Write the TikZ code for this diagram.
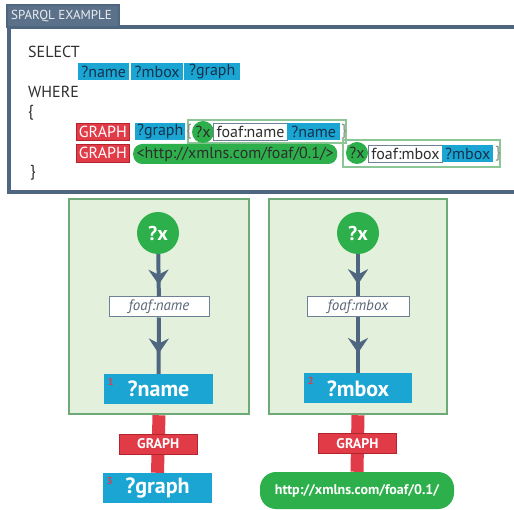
\documentclass[tikz,border=0pt]{standalone}
\usepackage{fontspec}
\setmainfont{PT Sans}
\usetikzlibrary{arrows.meta,decorations.markings}

\definecolor{slate}{HTML}{4E6680}
\definecolor{tabslate}{HTML}{5B7189}
\definecolor{codegray}{HTML}{2E2E2E}
\definecolor{bracegray}{HTML}{8A8A8A}
\definecolor{varblue}{HTML}{1AA5D2}
\definecolor{varnavy}{HTML}{14324E}
\definecolor{graphred}{HTML}{E23B48}
\definecolor{graphdark}{HTML}{B3242D}
\definecolor{xgreen}{HTML}{2DB04B}
\definecolor{triplegreen}{HTML}{8CC596}
\definecolor{propgray}{HTML}{6F8195}
\definecolor{panelfill}{HTML}{E3F0DC}
\definecolor{panelline}{HTML}{6DAA76}

\begin{document}
\begin{tikzpicture}[x=1pt, y=-1pt, every node/.append style={inner sep=0pt},
    codetxt/.style={anchor=west, text=codegray, font=\fontsize{16}{19}\selectfont},
    brace/.style={codetxt, text=bracegray},
    codebox/.style={codetxt, minimum height=17pt},
    varcode/.style={codebox, fill=varblue, text=varnavy},
    kwcode/.style={codebox, fill=graphred, draw=graphdark, line width=0.8pt, text=white},
    propcode/.style={codebox, fill=white, draw=propgray, line width=1pt},
    iricode/.style={codebox, fill=xgreen, rounded corners=9pt, minimum height=20pt, text=codegray},
    xcode/.style={circle, fill=xgreen, minimum size=22pt, text=codegray, font=\fontsize{16}{19}\selectfont},
    triplebox/.style={draw=triplegreen, line width=1.5pt},
    panel/.style={fill=panelfill, draw=panelline, line width=2.5pt, minimum width=180pt, minimum height=215pt},
    xvar/.style={circle, fill=xgreen, minimum size=42pt, text=white, font=\fontsize{20}{24}\selectfont\bfseries},
    propvar/.style={fill=white, draw=propgray, line width=1pt, minimum height=20pt, text=propgray!80!black, font=\fontsize{15}{18}\selectfont\itshape},
    resvar/.style={fill=varblue, minimum width=109pt, minimum height=30pt, text=white, font=\fontsize{22}{26}\selectfont\bfseries},
    iri/.style={fill=xgreen, rounded corners=16pt, minimum width=194pt, minimum height=37pt, text=white, font=\fontsize{14}{17}\selectfont\bfseries},
    graphbar/.style={draw=graphred, line width=13pt},
    graphtag/.style={fill=graphred, draw=graphdark, line width=1pt, minimum width=78pt, minimum height=20pt, text=white, font=\fontsize{14}{17}\selectfont\bfseries},
    numtag/.style={text=graphred, font=\fontsize{10}{11}\selectfont\bfseries},
    flow/.style={draw=slate, line width=4pt, postaction={decorate},
      decoration={markings, mark=at position #1 with {\arrow{Stealth[length=15pt, width=20pt, inset=5pt]}}}}]
  \useasboundingbox (0,0) rectangle (514,510);

  % query box
  \draw[slate, line width=4pt, fill=white] (9,27) rectangle (530,192);
  \draw[slate, fill=tabslate, line width=1.5pt] (7,5) rectangle (119,27);
  \node[anchor=west, text=white!88!slate, font=\fontsize{13}{15}\selectfont] (tab) at (11,16) {SPARQL EXAMPLE};

  \node[codetxt] (select) at (28,52) {SELECT};
  \node[varcode, minimum width=51pt] (selname) at (78,72) {?name};
  \node[varcode, minimum width=52pt] (selmbox) at (131,72) {?mbox};
  \node[varcode, minimum width=56pt] (selgraph) at (184,72) {?graph};
  \node[codetxt] (where) at (28,92) {WHERE};
  \node[codetxt] (open) at (28,113) {\{};

  % first graph pattern
  \draw[triplebox] (188,120) rectangle (346,143);
  \node[kwcode, minimum width=53pt] (kw1) at (76,132) {GRAPH};
  \node[varcode, minimum width=50pt] (g1) at (135,132) {?graph};
  \node[brace] (lb1) at (186,132) {\{};
  \node[xcode] (x1) at (203,132) {?x};
  \node[propcode, minimum width=74pt] (p1) at (213,132) {foaf:name};
  \node[varcode, minimum width=53pt] (v1) at (287,132) {?name};
  \node[brace] (rb1) at (341,132) {\}};

  % second graph pattern
  \draw[triplebox] (343,140) rectangle (500,167);
  \node[kwcode, minimum width=53pt, minimum height=18pt] (kw2) at (76,153) {GRAPH};
  \node[iricode, minimum width=204pt] (iri2) at (133,154) {<http://xmlns.com/foaf/0.1/>};
  \node[brace] (lb2) at (345,153) {\{};
  \node[xcode] (x2) at (357,153) {?x};
  \node[propcode, minimum width=74pt] (p2) at (368,154) {foaf:mbox};
  \node[varcode, minimum width=51pt] (v2) at (442,154) {?mbox};
  \node[brace] (rb2) at (495,154) {\}};

  \node[codetxt] (close) at (30,173) {\}};

  % graph panels
  \node[panel] (panelL) at (159,306.5) {};
  \node[panel, minimum width=178pt] (panelR) at (358,306.5) {};

  \node[xvar] (xL) at (158,233) {?x};
  \node[propvar, minimum width=100pt] (propL) at (159,307) {foaf:name};
  \node[resvar] (nameL) at (158.5,389) {?name};
  \node[resvar] (graphL) at (157.5,488) {?graph};

  \node[xvar] (xR) at (358,233) {?x};
  \node[propvar, minimum width=102pt] (propR) at (358,306.5) {foaf:mbox};
  \node[resvar, minimum width=108pt] (mboxR) at (358,388.5) {?mbox};
  \node[iri] (iriR) at (357,490.5) {http://xmlns.com/foaf/0.1/};

  \draw[flow=0.72] (xL) -- (propL);
  \draw[flow=0.64] (propL) -- (nameL);
  \draw[flow=0.72] (xR) -- (propR);
  \draw[flow=0.64] (propR) -- (mboxR);

  \draw[graphbar] (panelL.south) -- node[graphtag] (tagL) {GRAPH} (graphL.north);
  \draw[graphbar] (panelR.south) -- node[graphtag] (tagR) {GRAPH} (iriR.north);

  \node[numtag] (numL) at ([shift={(7,8)}]nameL.north west) {1};
  \node[numtag] (numR) at ([shift={(7,8)}]mboxR.north west) {2};
  \node[numtag] (numG) at ([shift={(7,8)}]graphL.north west) {3};
\end{tikzpicture}
\end{document}
